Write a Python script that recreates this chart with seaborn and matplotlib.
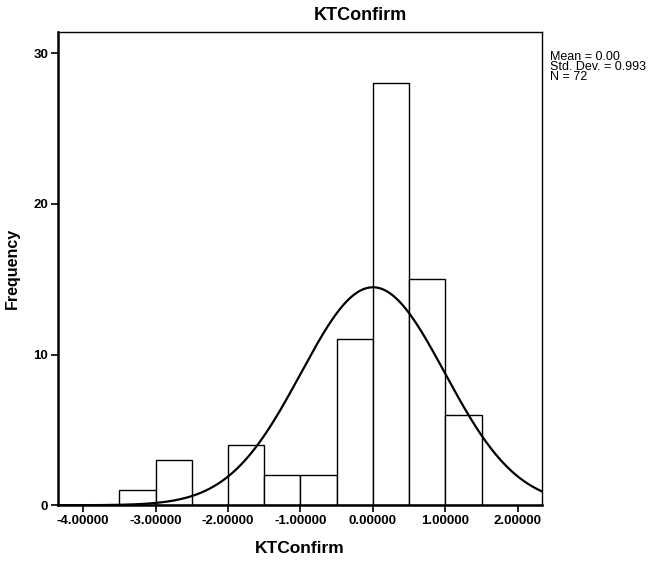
import numpy as np
import pandas as pd
import matplotlib
matplotlib.use("Agg")
import matplotlib.pyplot as plt
import seaborn as sns

bin_edges = [-3.5, -3.0, -2.5, -2.0, -1.5, -1.0, -0.5, 0.0, 0.5, 1.0, 1.5]
counts = [1, 3, 0, 4, 2, 2, 11, 28, 15, 6]
mean_val = 0.00
std_val = 0.993
n_val = 72
x_ticks = [-4, -3, -2, -1, 0, 1, 2]
y_ticks = [0, 10, 20, 30]

sns.set_style("white")
plt.rcParams['font.family'] = ['Liberation Sans', 'DejaVu Sans']
plt.rcParams['text.color'] = 'black'
plt.rcParams['axes.labelcolor'] = 'black'
plt.rcParams['xtick.color'] = 'black'
plt.rcParams['ytick.color'] = 'black'

centers = [(bin_edges[i] + bin_edges[i + 1]) / 2 for i in range(len(counts))]
df = pd.DataFrame({"KTConfirm": centers, "count": counts})

fig = plt.figure(figsize=(6.52, 5.62), dpi=100)
ax = fig.add_axes([0.089, 0.101, 0.742, 0.842])

sns.histplot(data=df, x="KTConfirm", weights="count", bins=bin_edges,
             color="white", edgecolor="black", linewidth=1.0, alpha=1, ax=ax)

width = bin_edges[1] - bin_edges[0]
xs = np.linspace(-4.35, 2.33, 400)
ys = n_val * width / (std_val * np.sqrt(2 * np.pi)) * np.exp(-(xs - mean_val) ** 2 / (2 * std_val ** 2))
sns.lineplot(x=xs, y=ys, color="black", linewidth=1.6, ax=ax)

ax.set_xlim(-4.345, 2.33)
ax.set_ylim(0, 31.4)
ax.set_xticks(x_ticks)
ax.set_xticklabels([f"{v:.5f}" for v in x_ticks], fontsize=9.5, fontweight="bold")
ax.set_yticks(y_ticks)
ax.set_yticklabels([str(v) for v in y_ticks], fontsize=9.5, fontweight="bold")
ax.tick_params(axis="both", direction="out", length=5, width=1.2, color="black",
               labelcolor="black", pad=2, left=True, bottom=True)
for s in ax.spines.values():
    s.set_color("black")
    s.set_linewidth(1)
ax.spines["left"].set_linewidth(1.8)
ax.spines["bottom"].set_linewidth(1.8)

ax.set_xlabel("KTConfirm", fontsize=12.5, fontweight="bold", labelpad=10, color="black")
ax.set_ylabel("Frequency", fontsize=11.5, fontweight="bold", labelpad=10, color="black")

fig.text(0.552, 0.987, "KTConfirm", ha="center", va="top", fontsize=13, fontweight="bold", color="black")
fig.text(0.843, 0.909, f"Mean = {mean_val:.2f}\nStd. Dev. = {std_val:.3f}\nN = {n_val}",
         ha="left", va="top", fontsize=9, linespacing=0.76, color="black")

fig.savefig("out.png", dpi=100)
